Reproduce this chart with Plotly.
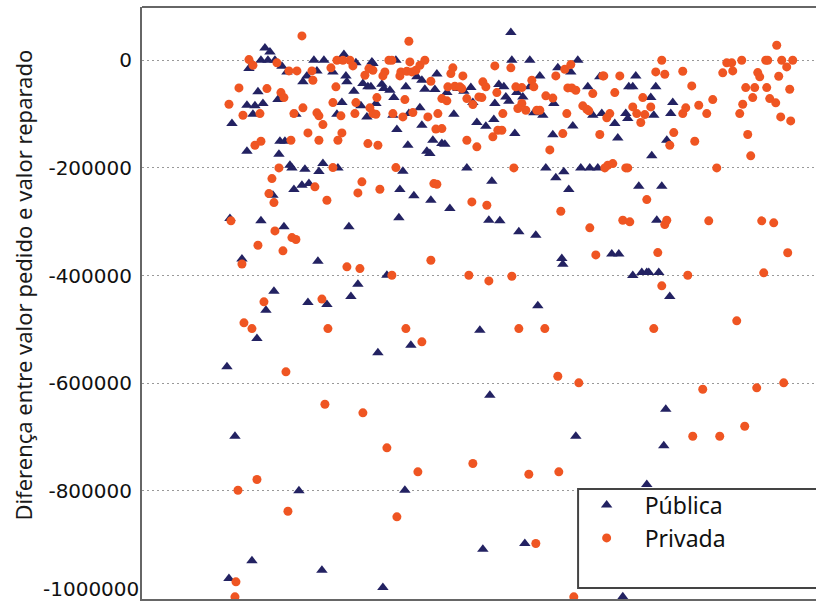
import plotly.graph_objects as go

# ---- data (x = case position, y = difference requested vs repaired) ----
publica_x = [123,128,119,126,133,107,140,145,172,175,165,161,116,105,113,121,136,111,90,154,
             138,143,105,137,148,150,163,177,152,160,167,131,119,142,88,100,132,124,115,85,
             93,157,110,87,182,202,214,230,231,254,191,204,205,212,221,226,229,240,242,248,
             252,264,275,280,283,293,295,200,219,234,195,225,251,267,278,255,280,266,291,285,
             181,196,261,258,272,289,257,207,300,303,288,176,245,216,209,166,185,236,269,263,
             180,241,338,396,348,434,341,383,481,369,370,388,416,398,305,316,322,329,357,362,
             375,381,364,367,331,353,412,388,312,335,344,352,392,401,373,411,325,404,414,350,
             308,347,358,377,394,420,421,436,429,458,494,446,487,491,514,509,531,451,460,484,
             486,512,529,473,431,476,525,510,422,439,448,456,427,497,520,515,470,477,491,500,
             505,507,517,528,524,522,505]
publica_y = [23000,15600,0,0,0,-15400,-11100,-21600,0,-19700,-29000,-40100,-58700,-83600,-84700,-80400,-73000,-100300,-117600,-100300,
             -150500,-150500,-169100,-174600,-195100,-200000,-202500,-206800,-240200,-232200,-229100,-250800,-298400,-309500,-294100,-369300,-429200,-464500,-517100,-569600,
             -698600,-800000,-930100,-963000,0,10600,-4800,-3000,-6100,0,-21600,-29000,-40100,-57600,-43300,-49400,-49400,-44600,-52600,-55700,
             -69300,-49400,-30800,-37200,-53900,-54400,-25600,-78600,-84700,-80400,-100300,-105200,-102200,-99000,-88400,-128800,-120800,-157900,-148600,-169100,
             -191900,-200000,-206200,-240200,-251900,-260100,-292800,-309500,-154800,-156100,-173300,-373400,-399400,-416200,-439000,-450200,-453900,-543600,-529500,-798900,
             -947500,-979700,-501600,-456300,-622400,-698600,-908500,-897900,-997000,51500,0,0,-14100,-29000,-60000,-52600,-57600,-50700,-45100,-49400,
             -60000,-68000,-68000,-76200,-78600,-80400,-80400,-49400,-100300,-115700,-122600,-110200,-97700,-102200,-136200,-138600,-200000,-200000,-218500,-224800,
             -275500,-297300,-298400,-318800,-325100,-368400,-379000,0,-21600,-30800,-29000,-49400,-49400,-49400,-49400,-69300,-78600,-102200,-99000,-99000,
             -108300,-102200,-99000,-117600,-121900,-144200,-148600,-177600,-207300,-200000,-200000,-200000,-240200,-234100,-234100,-297300,-360100,-360100,-400000,-394400,
             -394400,-394400,-394400,-439000,-648400,-716400,-788300]

privada_x = [160,107,111,135,147,155,97,125,139,142,87,161,101,118,152,166,113,119,149,137,
             130,127,132,89,133,150,154,116,141,100,122,102,110,144,115,96,146,94,93,170,
             171,175,177,177,173,267,195,201,208,211,189,194,223,227,231,243,241,247,250,259,
             258,268,265,270,274,278,283,289,191,214,235,263,228,231,234,199,213,251,261,271,
             286,296,181,200,294,300,196,226,236,191,254,220,216,238,292,295,185,205,218,250,
             289,180,186,264,280,183,221,245,276,255,311,309,353,369,321,341,344,414,306,313,
             318,320,355,374,380,390,392,300,305,325,337,340,331,404,411,380,376,384,398,395,
             361,356,360,351,325,335,408,372,330,345,419,327,347,370,377,403,416,437,331,387,
             417,394,432,423,429,426,430,434,451,461,462,478,473,441,445,447,425,468,465,491,
             495,503,499,501,509,520,514,523,421,458,528,532,466,471,463,484,486,505,481,488,
             523,525,448,454,516,520,546,622,646,595,512,561,615,642,551,578,603,635,585,590,
             600,624,626,640,651,541,581,591,616,618,645,637,550,604,613,625,648,571,611,628,
             634,557,544,541,565,601,598,639,649,606,553,609,575,567,620,632]
privada_y = [45300,1300,-9300,-4800,-19700,-19700,-51300,-52600,-60000,-69300,-81700,-88400,-102200,-99000,-99000,-134900,-157900,-150500,-148600,-200000,
             -219800,-247700,-264400,-298400,-317000,-329400,-333100,-343700,-354100,-378600,-448900,-487900,-498500,-578900,-779000,-798900,-837900,-969100,-997000,-19700,
             -37200,-97700,-103300,-148600,-235200,35300,0,0,0,-10400,-14100,-49400,-27900,-15400,-18600,-21600,-29000,0,0,-21600,
             -29000,-3000,-20400,-21600,-18600,-9300,0,-39000,-78600,-78600,-69300,-73000,-88400,-99000,-100300,-103300,-99000,-99000,-105200,-97200,
             -105200,-99000,-119500,-134900,-127800,-126900,-148600,-154800,-157900,-199400,-199400,-225900,-246400,-239700,-229100,-230400,-260100,-383800,-387000,-399400,
             -371600,-443700,-498500,-498500,-523200,-639100,-655100,-720100,-764700,-848300,-14100,-24700,-10400,-14100,-29000,-40100,-49400,-29000,-49400,-48300,
             -49400,-52600,-60000,-49400,-50700,-37200,-49400,-71200,-75400,-71200,-68000,-69300,-82300,-66100,-70200,-80400,-89700,-92900,-92900,-92900,
             -99000,-130100,-130100,-142300,-148600,-160900,-166500,-200000,-263100,-269400,-280500,-399400,-409900,-401300,-498500,-498500,-587100,-599400,-749300,-769200,
             -764700,-897900,-997000,-16700,-8000,-51300,-51300,-55700,-61900,-29000,-29000,-29000,-60000,-84700,-91000,-94000,-99000,-99000,-107000,-86600,
             -99000,-100900,-115700,-69300,-86600,0,-21600,-26000,-136200,-138000,-157900,-134300,-195100,-191900,-200000,-200000,-200000,-258800,-297300,-300200,
             -305300,-297300,-311400,-361600,-357300,-419100,-399400,-395000,-357600,-484200,-498500,-611200,-608700,-599400,-698600,-698600,-680000,27900,-4800,-4800,
             0,0,0,0,0,-20400,-23400,-19700,-22900,-30800,-12300,-29700,-47600,-50700,-50700,-50700,-53900,-73000,-69300,-71200,
             -79100,-83600,-88400,-99000,-99000,-81700,-99000,-105200,-112600,-138000,-150500,-177600,-200000,-298400,-298400,-302100]

tick_vals = [0, -200000, -400000, -600000, -800000]
tick_text = ["0", "-200000", "-400000", "-600000", "-800000"]
bottom_tick_val = -1000000
bottom_tick_text = "-1000000"
series_names = ["Pública", "Privada"]
y_title = "Diferença entre valor pedido e valor reparado"

NAVY = "#232262"
ORANGE = "#ef5522"
FRAME = "#666666"
TICK_FONT = dict(family="DejaVu Sans", size=20, color="#111111")

fig = go.Figure()
fig.add_trace(go.Scatter(x=publica_x, y=publica_y, mode="markers", name=series_names[0],
                         marker=dict(symbol="triangle-up", size=10, color=NAVY)))
fig.add_trace(go.Scatter(x=privada_x, y=privada_y, mode="markers", name=series_names[1],
                         marker=dict(symbol="circle", size=9, color=ORANGE)))

# top frame line running off the right edge
fig.add_shape(type="line", xref="paper", yref="paper", x0=0, x1=1.1, y0=1, y1=1,
              line=dict(color=FRAME, width=2), layer="above")
# legend frame (extends past right edge, covering points beneath)
fig.add_shape(type="rect", xref="paper", yref="paper", x0=0.647, x1=1.1, y0=0.0186, y1=0.186,
              fillcolor="white", line=dict(color="#444444", width=2), layer="above")

# lowest tick label, nudged up so it stays inside the page
fig.add_annotation(text=bottom_tick_text, xref="paper", yref="y", x=0, y=bottom_tick_val,
                   xanchor="right", yanchor="middle", xshift=-2, yshift=9, showarrow=False,
                   borderpad=0, font=TICK_FONT)

fig.add_annotation(text=y_title, xref="paper", yref="paper", x=-0.176, y=0.530,
                   textangle=-90, showarrow=False, xanchor="center", yanchor="middle",
                   font=dict(family="Noto Sans", size=22, color="#1a1a1a"))

fig.update_layout(
    width=816, height=604,
    margin=dict(l=142, r=0, t=7, b=5),
    paper_bgcolor="white", plot_bgcolor="white",
    showlegend=True,
    legend=dict(x=0.633, y=0.195, xanchor="left", yanchor="top",
                bgcolor="rgba(0,0,0,0)", borderwidth=0, itemwidth=66,
                font=dict(family="Noto Sans", size=23, color="#111111")),
    xaxis=dict(range=[0, 674.3], showticklabels=False, showgrid=False, zeroline=False,
               showline=True, mirror=False, linecolor=FRAME, linewidth=2, ticks=""),
    yaxis=dict(range=[-1001000, 99000], tickvals=tick_vals, ticktext=tick_text,
               showgrid=True, gridcolor="#999999", gridwidth=1, griddash="2px,3px",
               zeroline=False, showline=True, linecolor=FRAME, linewidth=2,
               ticks="", ticklabelstandoff=4, automargin=False,
               tickfont=TICK_FONT),
)

fig.write_html("out.html", config={"displayModeBar": False},
               post_script="document.body.style.margin='0';document.body.style.overflow='hidden';")
